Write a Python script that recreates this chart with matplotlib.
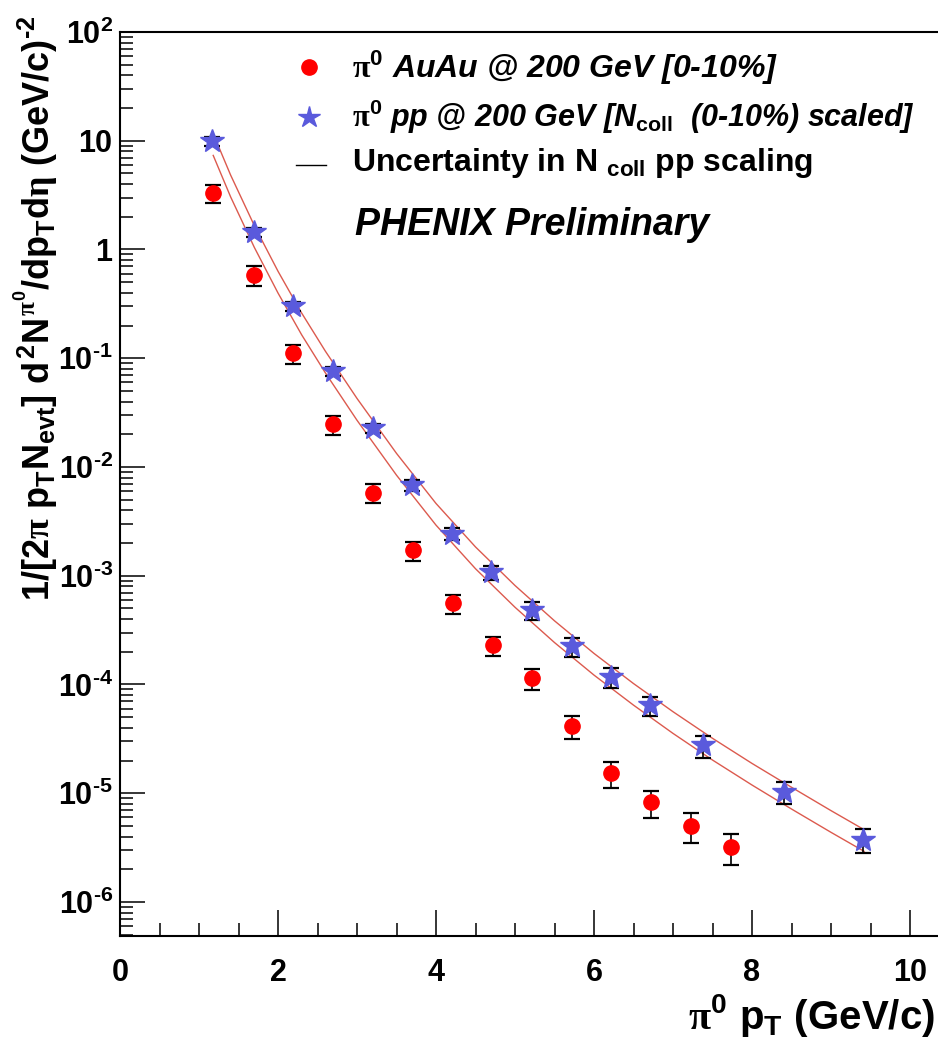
import matplotlib
matplotlib.use('Agg')
import numpy as np
import matplotlib.pyplot as plt
from matplotlib.ticker import FixedLocator, LogLocator, MultipleLocator, NullFormatter

# --- data ---
# pi0 AuAu @ 200 GeV, 0-10% central
au_pt = [1.18, 1.69, 2.19, 2.70, 3.20, 3.71, 4.21, 4.72, 5.22, 5.72, 6.22, 6.72, 7.23, 7.73]
au_yield = [3.28, 0.582, 0.111, 0.0246, 5.78e-3, 1.72e-3, 5.58e-4, 2.30e-4,
            1.14e-4, 4.14e-5, 1.52e-5, 8.24e-6, 5.04e-6, 3.21e-6]
au_relerr = [0.19, 0.20, 0.20, 0.20, 0.20, 0.20, 0.20, 0.20, 0.22, 0.24, 0.27, 0.28, 0.31, 0.32]

# pi0 pp @ 200 GeV scaled by Ncoll (0-10%)
pp_pt = [1.17, 1.69, 2.19, 2.70, 3.20, 3.70, 4.20, 4.70, 5.22, 5.72, 6.22, 6.71, 7.38, 8.40, 9.41]
pp_yield = [9.94, 1.445, 0.301, 0.076, 0.0226, 6.8e-3, 2.44e-3, 1.08e-3,
            4.82e-4, 2.25e-4, 1.17e-4, 6.44e-5, 2.76e-5, 1.03e-5, 3.74e-6]
pp_relerr = [0.10, 0.10, 0.10, 0.10, 0.10, 0.12, 0.12, 0.15, 0.18, 0.20, 0.20, 0.20, 0.23, 0.22, 0.25]

# Ncoll scaling uncertainty band (upper / lower curve)
band_pt = [1.18, 1.4, 1.7, 2.0, 2.3, 2.6, 3.0, 3.5, 4.0, 4.5, 5.0, 5.5, 6.0, 6.5,
           7.0, 7.5, 8.0, 8.5, 9.0, 9.42]
band_hi = [11.6, 4.84, 1.66, 0.631, 0.260, 0.116, 0.0427, 0.01334, 4.62e-3, 1.84e-3,
           8.13e-4, 3.85e-4, 1.93e-4, 1.02e-4, 5.62e-5, 3.20e-5, 1.88e-5, 1.135e-5,
           6.92e-6, 4.62e-6]
band_lo = [7.33, 3.05, 1.047, 0.398, 0.164, 0.0733, 0.0269, 8.41e-3, 2.92e-3, 1.16e-3,
           5.13e-4, 2.43e-4, 1.22e-4, 6.46e-5, 3.55e-5, 2.02e-5, 1.19e-5, 7.16e-6,
           4.37e-6, 2.92e-6]

HY = '\u2010'  # short hyphen, as in the original labels
y_ticks = [1e-6, 1e-5, 1e-4, 1e-3, 1e-2, 1e-1, 1, 10, 100]
y_ticklabels = [r'$10^{%s6}$' % HY, r'$10^{%s5}$' % HY, r'$10^{%s4}$' % HY,
                r'$10^{%s3}$' % HY, r'$10^{%s2}$' % HY, r'$10^{%s1}$' % HY,
                r'$1\ $', r'$10\ $', r'$10^{2}$']
x_ticks = [0, 2, 4, 6, 8, 10]
x_ticklabels = ['0', '2', '4', '6', '8', '10']

legend_labels = [r'$\mathsf{\pi}^{0}$ AuAu @ 200 GeV [0-10%]',
                 r'$\mathsf{\pi}^{0}$ pp @ 200 GeV [N$_{coll}$  (0-10%) scaled]',
                 r'Uncertainty in N $_{coll}$ pp scaling']

# --- style ---
plt.rcParams['font.family'] = ['Liberation Sans', 'DejaVu Sans']
plt.rcParams['font.weight'] = 'bold'
plt.rcParams['mathtext.fontset'] = 'custom'
plt.rcParams['mathtext.rm'] = 'Liberation Sans:bold'
plt.rcParams['mathtext.it'] = 'Liberation Sans:bold'
plt.rcParams['mathtext.bf'] = 'Liberation Sans:bold'
plt.rcParams['mathtext.sf'] = 'Liberation Serif'

red = '#ff0000'
blue = '#5a5adc'
band_col = '#dc5a4e'

W, H = 938, 1038
fig = plt.figure(figsize=(W / 100, H / 100), dpi=100)
ax = fig.add_axes([120 / W, 1 - 936 / H, 1 - 120 / W, (936 - 32) / H])

au_pt = np.array(au_pt); au_yield = np.array(au_yield)
pp_pt = np.array(pp_pt); pp_yield = np.array(pp_yield)

ax.plot(band_pt, band_hi, color=band_col, lw=1.0, zorder=2)
ax.plot(band_pt, band_lo, color=band_col, lw=1.0, zorder=2)

ax.errorbar(au_pt, au_yield, yerr=au_yield * np.array(au_relerr), fmt='none',
            ecolor='black', elinewidth=1.2, capsize=6, capthick=1.6, zorder=3)
ax.plot(au_pt, au_yield, 'o', color=red, mec=red, ms=11, zorder=4)

ax.errorbar(pp_pt, pp_yield, yerr=pp_yield * np.array(pp_relerr), fmt='none',
            ecolor='black', elinewidth=1.2, capsize=6, capthick=1.6, zorder=3)
ax.plot(pp_pt, pp_yield, '*', color=blue, mec=blue, ms=18, zorder=4)

ax.set_yscale('log')
ax.set_xlim(0, (W - 120) / 79.0)
ax.set_ylim(10 ** (-6 - 34 / 108.7), 100)

ax.xaxis.set_major_locator(FixedLocator(x_ticks))
ax.set_xticklabels(x_ticklabels)
ax.xaxis.set_minor_locator(MultipleLocator(0.5))
ax.yaxis.set_major_locator(FixedLocator(y_ticks))
ax.set_yticklabels(y_ticklabels)
ax.yaxis.set_minor_locator(LogLocator(base=10, subs=np.arange(2, 10), numticks=20))
ax.yaxis.set_minor_formatter(NullFormatter())

ax.tick_params(axis='x', which='major', direction='in', length=19, width=1.1,
               labelsize=22, pad=16)
ax.tick_params(axis='x', which='minor', direction='in', length=9.5, width=1.1)
ax.tick_params(axis='y', which='major', direction='in', length=18, width=1.1,
               labelsize=22, pad=5)
ax.tick_params(axis='y', which='minor', direction='in', length=9.5, width=1.1)
for s in ['left', 'bottom', 'top']:
    ax.spines[s].set_linewidth(1.5)
ax.spines['right'].set_visible(False)

ax.set_ylabel(r'$1/[2\mathsf{\pi}\ p_{T}N_{evt}]\ d^{2}N^{\mathsf{\pi}^{0}}/dp_{T}d\mathsf{\eta}\ (GeV/c)^{%s2}$' % HY,
              fontsize=26)
ax.yaxis.set_label_coords(-0.072, 0.695)
ax.set_xlabel(r'$\mathsf{\pi}^{0}\ p_{T}\ (GeV/c)$', fontsize=29, loc='right')
ax.xaxis.set_label_coords(0.996, -0.062)

# --- legend drawn by hand ---
fx = lambda px: px / W
fy = lambda py: 1 - py / H
fig.lines.append(plt.Line2D([fx(309)], [fy(67)], marker='o', color=red, ms=11,
                            transform=fig.transFigure))
fig.lines.append(plt.Line2D([fx(309)], [fy(117)], marker='*', color=blue, ms=16,
                            transform=fig.transFigure))
fig.lines.append(plt.Line2D([fx(296), fx(326)], [fy(165), fy(165)], color='black', lw=1.0,
                            transform=fig.transFigure))
fig.text(fx(352), fy(68), legend_labels[0], fontsize=23, style='italic',
         fontweight='bold', va='center')
fig.text(fx(352), fy(117), legend_labels[1], fontsize=22, style='italic',
         fontweight='bold', va='center')
fig.text(fx(352), fy(163), legend_labels[2], fontsize=23, fontweight='bold', va='center')
fig.text(fx(355), fy(225), 'PHENIX Preliminary', fontsize=27, style='italic',
         fontweight='bold', va='center')

fig.savefig('out.png', dpi=100)
